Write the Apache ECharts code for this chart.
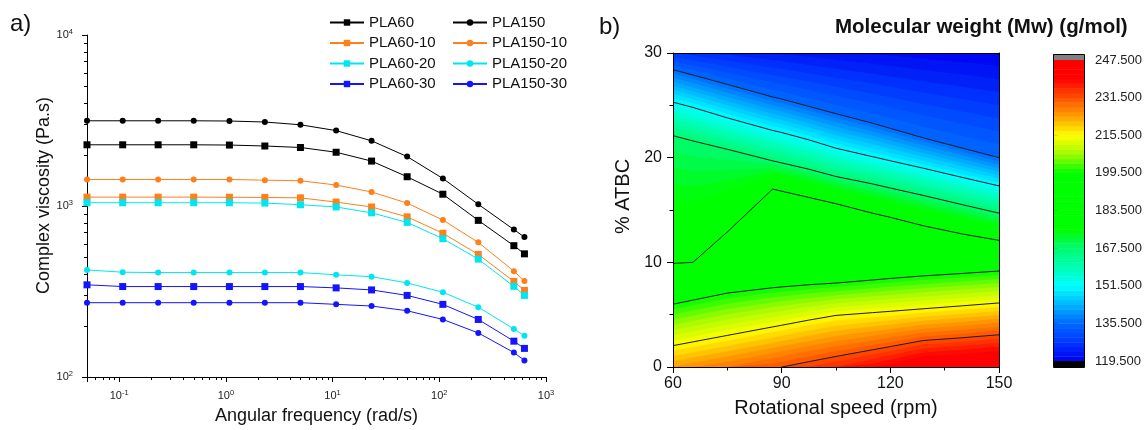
<!DOCTYPE html>
<html>
<head>
<meta charset="utf-8">
<script src="https://cdn.jsdelivr.net/npm/echarts@6.0.0/dist/echarts.min.js"></script>
<style>
  html, body { margin: 0; padding: 0; background: #ffffff; }
  #chart { width: 1145px; height: 430px; }
</style>
</head>
<body>
<div id="chart"></div>
<script>
// ---------- (a) complex viscosity vs angular frequency ----------
const angularFrequency = [0.05, 0.108, 0.232, 0.5, 1.08, 2.32, 5, 10.8, 23.2, 50, 108, 232, 500, 628]; // rad/s
const viscPLA60     = [2280, 2280, 2280, 2280, 2272, 2243, 2199, 2062, 1831, 1483, 1172, 824, 586, 525];
const viscPLA150    = [3150, 3150, 3150, 3150, 3140, 3098, 2985, 2760, 2405, 1945, 1449, 1023, 728, 658];
const viscPLA60_10  = [1127, 1127, 1127, 1127, 1125, 1122, 1116, 1054, 987, 864, 693, 521, 362, 321];
const viscPLA150_10 = [1429, 1429, 1429, 1429, 1429, 1416, 1405, 1326, 1208, 1040, 828, 613, 416, 364];
const viscPLA60_20  = [1045, 1045, 1045, 1045, 1045, 1040, 1017, 987, 912, 802, 644, 489, 339, 300];
const viscPLA150_20 = [423, 410, 408, 408, 408, 408, 408, 396, 386, 355, 313, 256, 191, 174];
const viscPLA60_30  = [346, 338, 338, 338, 338, 338, 338, 332, 323, 300, 266, 217, 162, 147];
const viscPLA150_30 = [272, 272, 272, 272, 272, 272, 272, 266, 260, 244, 217, 181, 139, 125];

const legendLeftNames  = ['PLA60', 'PLA60-10', 'PLA60-20', 'PLA60-30'];
const legendRightNames = ['PLA150', 'PLA150-10', 'PLA150-20', 'PLA150-30'];

const freqRange = [0.05, 1000];
const viscRange = [100, 10000];

// ---------- (b) Mw contour map over rotational speed and % ATBC ----------
const speedColumns = [60, 65.5, 75, 87.5, 90, 97.5, 105, 115, 120, 129, 140, 150];         // rpm
const mwAtAtbc0    = [223.7, 225.1, 227.5, 230.8, 231.5, 233.6, 235.6, 238.9, 240.8, 244.9, 246.2, 247.5];
const mwAtAtbc30   = [127.5, 126.5, 125.0, 123.5, 123.3, 122.6, 122.0, 121.3, 121.0, 120.5, 120.0, 119.5];
const isoLevels    = [231.5, 215.5, 199.5, 183.5, 167.5, 151.5, 135.5];
// % ATBC where each iso-Mw line crosses each speed column (null: line not present there)
const iso231_5 = [null, null, null, null, 0, 0.51, 1.01, 1.64, 1.95, 2.53, 2.80, 3.08];
const iso215_5 = [2.04, 2.40, 3.02, 3.83, 3.99, 4.48, 4.93, 5.19, 5.32, 5.56, 5.85, 6.12];
const iso199_5 = [6.00, 6.39, 7.06, 7.57, 7.65, 7.86, 8.02, 8.31, 8.46, 8.70, 8.94, 9.17];
const iso183_5 = [9.90, 10.0, 12.9, 17.0, 16.8, 16.2, 15.6, 14.7, 14.3, 13.5, 12.7, 12.1];
const iso167_5 = [22.1, 21.6, 20.8, 19.7, 19.5, 18.9, 18.2, 17.5, 17.1, 16.4, 15.5, 14.7];
const iso151_5 = [25.3, 24.8, 23.8, 22.6, 22.4, 21.7, 20.9, 20.1, 19.7, 19.0, 18.1, 17.3];
const iso135_5 = [28.4, 27.9, 27.0, 25.8, 25.6, 24.9, 24.2, 23.3, 22.8, 21.9, 20.9, 20.0];
const isoLines = [iso231_5, iso215_5, iso199_5, iso183_5, iso167_5, iso151_5, iso135_5];

const speedRange = [60, 150];
const atbcRange  = [0, 30];
const mwScale = { min: 119.5, max: 247.5, band: 2, label: 16 };

// rainbow palette of the Mw scale
const mwColorStops = [
  [119.5, [0, 0, 240]], [127.5, [0, 55, 255]], [135.5, [0, 105, 255]], [143.5, [0, 180, 255]],
  [151.5, [0, 255, 255]], [159.5, [0, 255, 180]], [167.5, [0, 250, 115]], [175.5, [0, 255, 0]],
  [199.5, [0, 255, 0]], [207.5, [160, 250, 0]], [215.5, [255, 255, 0]], [223.5, [255, 160, 0]],
  [231.5, [255, 80, 0]], [239.5, [255, 0, 0]], [247.5, [255, 0, 0]]
];

// ---------- helpers ----------
const FONT = '"Liberation Sans", Arial, Helvetica, sans-serif';
const INK = '#111';

function mwColor(v) {
  for (let i = 0; i < mwColorStops.length - 1; i++) {
    const [a, ca] = mwColorStops[i], [b, cb] = mwColorStops[i + 1];
    if (v >= a && v <= b) {
      const t = (v - a) / (b - a);
      const c = ca.map((x, k) => Math.round(x + (cb[k] - x) * t));
      return 'rgb(' + c.join(',') + ')';
    }
  }
  return v < mwColorStops[0][0] ? '#000' : '#808080';
}

// Mw profile along % ATBC for each speed column: [atbc, Mw] knots, Mw decreasing
const columnProfiles = speedColumns.map((x, c) => {
  const knots = [[atbcRange[0], mwAtAtbc0[c]]];
  isoLines.forEach((line, k) => { if (line[c] != null) knots.push([line[c], isoLevels[k]]); });
  knots.push([atbcRange[1], mwAtAtbc30[c]]);
  return knots;
});

function atbcAtLevel(c, level) {
  const k = columnProfiles[c];
  if (level >= k[0][1]) return k[0][0];
  if (level <= k[k.length - 1][1]) return k[k.length - 1][0];
  for (let i = 0; i < k.length - 1; i++) {
    const [y0, v0] = k[i], [y1, v1] = k[i + 1];
    if (level <= v0 && level >= v1) {
      if (v0 === v1) return y0;
      return y0 + (v0 - level) / (v0 - v1) * (y1 - y0);
    }
  }
  return k[k.length - 1][0];
}

const bandLevels = [];
for (let v = mwScale.min; v < mwScale.max - 1e-9; v += mwScale.band) bandLevels.push(v);

const freqMinorTicks = [];
[0.01, 0.1, 1, 10, 100].forEach(d => {
  for (let m = 2; m <= 9; m++) {
    const v = +(m * d).toPrecision(3);
    if (v > freqRange[0] && v < freqRange[1]) freqMinorTicks.push(v);
  }
});
const viscMinorTicks = [];
[100, 1000].forEach(d => { for (let m = 2; m <= 9; m++) viscMinorTicks.push(m * d); });

const viscositySeries = [
  { name: 'PLA60', values: viscPLA60, color: '#000000', symbol: 'rect' },
  { name: 'PLA150', values: viscPLA150, color: '#000000', symbol: 'circle' },
  { name: 'PLA60-10', values: viscPLA60_10, color: '#ff7f1a', symbol: 'rect' },
  { name: 'PLA150-10', values: viscPLA150_10, color: '#ff7f1a', symbol: 'circle' },
  { name: 'PLA60-20', values: viscPLA60_20, color: '#00e6f0', symbol: 'rect' },
  { name: 'PLA150-20', values: viscPLA150_20, color: '#00e6f0', symbol: 'circle' },
  { name: 'PLA60-30', values: viscPLA60_30, color: '#1414ff', symbol: 'rect' },
  { name: 'PLA150-30', values: viscPLA150_30, color: '#1414ff', symbol: 'circle' }
];

const lg = Math.log10;
const blackLine = { show: true, onZero: false, lineStyle: { color: '#000', width: 1 } };

const powerLabel = {
  formatter: v => {
    const n = Math.round(v);
    if (Math.abs(v - n) > 1e-6) return '';
    return '{b|10}{s|' + n + '}';
  },
  rich: {
    b: { fontSize: 11, color: '#222', lineHeight: 14, fontFamily: FONT },
    s: { fontSize: 7.5, color: '#222', lineHeight: 8, verticalAlign: 'top', fontFamily: FONT }
  }
};

const crisp = v => Math.round(v) + 0.5;

const option = {
  animation: false,
  backgroundColor: '#ffffff',
  textStyle: { fontFamily: FONT },
  title: [
    { text: 'a)', left: 10, top: 12, padding: 0, textStyle: { fontSize: 24, fontWeight: 'normal', color: INK } },
    { text: 'b)', left: 599, top: 15, padding: 0, textStyle: { fontSize: 24, fontWeight: 'normal', color: INK } },
    { text: 'Molecular weight (Mw) (g/mol)', left: 835, top: 17, padding: 0,
      textStyle: { fontSize: 20.5, fontWeight: 'bold', color: INK } }
  ],
  legend: [
    { data: legendLeftNames, orient: 'vertical', left: 329, top: 15, padding: 0,
      itemWidth: 34, itemHeight: 8, itemGap: 5.5, selectedMode: false,
      textStyle: { fontSize: 15, color: INK } },
    { data: legendRightNames, orient: 'vertical', left: 452, top: 15, padding: 0,
      itemWidth: 34, itemHeight: 8, itemGap: 5.5, selectedMode: false,
      textStyle: { fontSize: 15, color: INK } }
  ],
  grid: [
    { left: 87, top: 35, width: 459, height: 348 },
    { left: 673, top: 53, width: 326, height: 314 },
    { left: 1053, top: 60, width: 31, height: 301 }
  ],
  xAxis: [
    { gridIndex: 0, type: 'value', min: lg(freqRange[0]), max: lg(freqRange[1]),
      axisLine: blackLine, axisTick: { show: true, length: 5, lineStyle: { color: '#000' } },
      axisLabel: Object.assign({ margin: 12 }, powerLabel), splitLine: { show: false },
      name: 'Angular frequency (rad/s)', nameLocation: 'middle', nameGap: 30,
      nameTextStyle: { fontSize: 18, color: INK } },
    { gridIndex: 1, type: 'value', min: speedRange[0], max: speedRange[1], interval: 30, z: 5,
      axisLine: blackLine, axisTick: { show: true, length: 6, lineStyle: { color: '#000' } },
      minorTick: { show: true, splitNumber: 2, length: 3.5, lineStyle: { color: '#000' } },
      axisLabel: { fontSize: 16, color: INK, margin: 9 }, splitLine: { show: false },
      name: 'Rotational speed (rpm)', nameLocation: 'middle', nameGap: 31,
      nameTextStyle: { fontSize: 20, color: INK } },
    { gridIndex: 1, type: 'value', position: 'top', min: speedRange[0], max: speedRange[1], z: 5,
      axisLine: blackLine, axisTick: { show: false }, axisLabel: { show: false }, splitLine: { show: false } },
    { gridIndex: 2, type: 'value', min: 0, max: 1, show: false }
  ],
  yAxis: [
    { gridIndex: 0, type: 'value', min: lg(viscRange[0]), max: lg(viscRange[1]), interval: 1,
      axisLine: blackLine, axisTick: { show: true, length: 5, lineStyle: { color: '#000' } },
      axisLabel: Object.assign({ margin: 14 }, powerLabel), splitLine: { show: false },
      name: 'Complex viscosity (Pa.s)', nameLocation: 'middle', nameGap: 33,
      nameTextStyle: { fontSize: 18, color: INK, padding: [0, 0, 0, 21] } },
    { gridIndex: 1, type: 'value', min: atbcRange[0], max: atbcRange[1], interval: 10, z: 5,
      axisLine: blackLine, axisTick: { show: true, length: 6, lineStyle: { color: '#000' } },
      minorTick: { show: true, splitNumber: 2, length: 3.5, lineStyle: { color: '#000' } },
      axisLabel: { fontSize: 16, color: INK, margin: 11 }, splitLine: { show: false },
      name: '% ATBC', nameLocation: 'middle', nameGap: 40,
      nameTextStyle: { fontSize: 20, color: INK, padding: [0, 0, 0, 27] } },
    { gridIndex: 1, type: 'value', position: 'right', min: atbcRange[0], max: atbcRange[1], z: 5,
      axisLine: blackLine, axisTick: { show: false }, axisLabel: { show: false }, splitLine: { show: false } },
    { gridIndex: 2, type: 'value', position: 'right', min: mwScale.min, max: mwScale.max, interval: mwScale.label,
      axisLine: { show: false }, axisTick: { show: true, length: 5, lineStyle: { color: '#000' } },
      axisLabel: { fontSize: 13, color: '#222', margin: 11, formatter: v => v.toFixed(3) },
      splitLine: { show: false } }
  ],
  series: [
    // viscosity curves
    ...viscositySeries.map(s => ({
      type: 'line', name: s.name, xAxisIndex: 0, yAxisIndex: 0, z: 3,
      data: angularFrequency.map((f, i) => [lg(f), lg(s.values[i])]),
      symbol: s.symbol, symbolSize: s.symbol === 'rect' ? 7 : 6, showAllSymbol: true,
      lineStyle: { color: s.color, width: 1 }, itemStyle: { color: s.color },
      emphasis: { disabled: true }, silent: true
    })),
    // logarithmic minor ticks of panel (a)
    {
      type: 'custom', xAxisIndex: 0, yAxisIndex: 0, silent: true, z: 4,
      data: freqMinorTicks.map(v => [0, lg(v)]).concat(viscMinorTicks.map(v => [1, lg(v)])),
      renderItem(params, api) {
        const kind = api.value(0), v = api.value(1);
        if (kind === 0) {
          const p = api.coord([v, lg(viscRange[0])]);
          const x = crisp(p[0]);
          return { type: 'line', shape: { x1: x, y1: p[1], x2: x, y2: p[1] + 3 }, style: { stroke: '#000', lineWidth: 1 } };
        }
        const p = api.coord([lg(freqRange[0]), v]);
        const y = crisp(p[1]);
        return { type: 'line', shape: { x1: p[0] - 3, y1: y, x2: p[0], y2: y }, style: { stroke: '#000', lineWidth: 1 } };
      }
    },
    // filled Mw bands: region with Mw >= level, painted from low to high level
    {
      type: 'custom', xAxisIndex: 1, yAxisIndex: 1, silent: true, z: 2,
      data: bandLevels.map(l => [l]),
      renderItem(params, api) {
        const level = api.value(0);
        const pts = speedColumns.map(x => api.coord([x, atbcRange[0]]));
        for (let c = speedColumns.length - 1; c >= 0; c--) {
          pts.push(api.coord([speedColumns[c], atbcAtLevel(c, level)]));
        }
        return { type: 'polygon', z2: params.dataIndex, shape: { points: pts },
                 style: { fill: mwColor(level + mwScale.band / 2) } };
      }
    },
    // iso-Mw contour lines
    {
      type: 'custom', xAxisIndex: 1, yAxisIndex: 1, silent: true, z: 3,
      data: isoLevels.map((l, k) => [k, l]),
      renderItem(params, api) {
        const line = isoLines[api.value(0)];
        const pts = [];
        speedColumns.forEach((x, c) => { if (line[c] != null) pts.push(api.coord([x, line[c]])); });
        return { type: 'polyline', shape: { points: pts },
                 style: { stroke: '#1c1c1c', lineWidth: 1, fill: null } };
      }
    },
    // color scale bands
    {
      type: 'custom', xAxisIndex: 3, yAxisIndex: 3, silent: true, z: 2,
      data: bandLevels.map(l => [0, l]),
      renderItem(params, api) {
        const lo = api.value(1), hi = lo + mwScale.band;
        const a = api.coord([0, hi]), b = api.coord([1, lo]);
        return { type: 'rect', shape: { x: a[0], y: a[1], width: b[0] - a[0], height: b[1] - a[1] + 0.4 },
                 style: { fill: mwColor(lo + mwScale.band / 2) } };
      }
    },
    // color scale end caps and frame
    {
      type: 'custom', xAxisIndex: 3, yAxisIndex: 3, silent: true, z: 4,
      data: [[0, mwScale.min]],
      renderItem(params, api) {
        const tl = api.coord([0, mwScale.max]), br = api.coord([1, mwScale.min]);
        const cap = 6, w = br[0] - tl[0];
        return { type: 'group', children: [
          { type: 'rect', shape: { x: tl[0], y: tl[1] - cap, width: w, height: cap }, style: { fill: '#808080' } },
          { type: 'rect', shape: { x: tl[0], y: br[1], width: w, height: cap }, style: { fill: '#000000' } },
          { type: 'rect', shape: { x: crisp(tl[0]), y: crisp(tl[1] - cap), width: Math.round(w), height: Math.round(br[1] - tl[1] + 2 * cap) },
            style: { fill: null, stroke: '#000', lineWidth: 1 } }
        ] };
      }
    }
  ]
};

const chart = echarts.init(document.getElementById('chart'), null, { renderer: 'canvas' });
chart.setOption(option);
</script>
</body>
</html>
